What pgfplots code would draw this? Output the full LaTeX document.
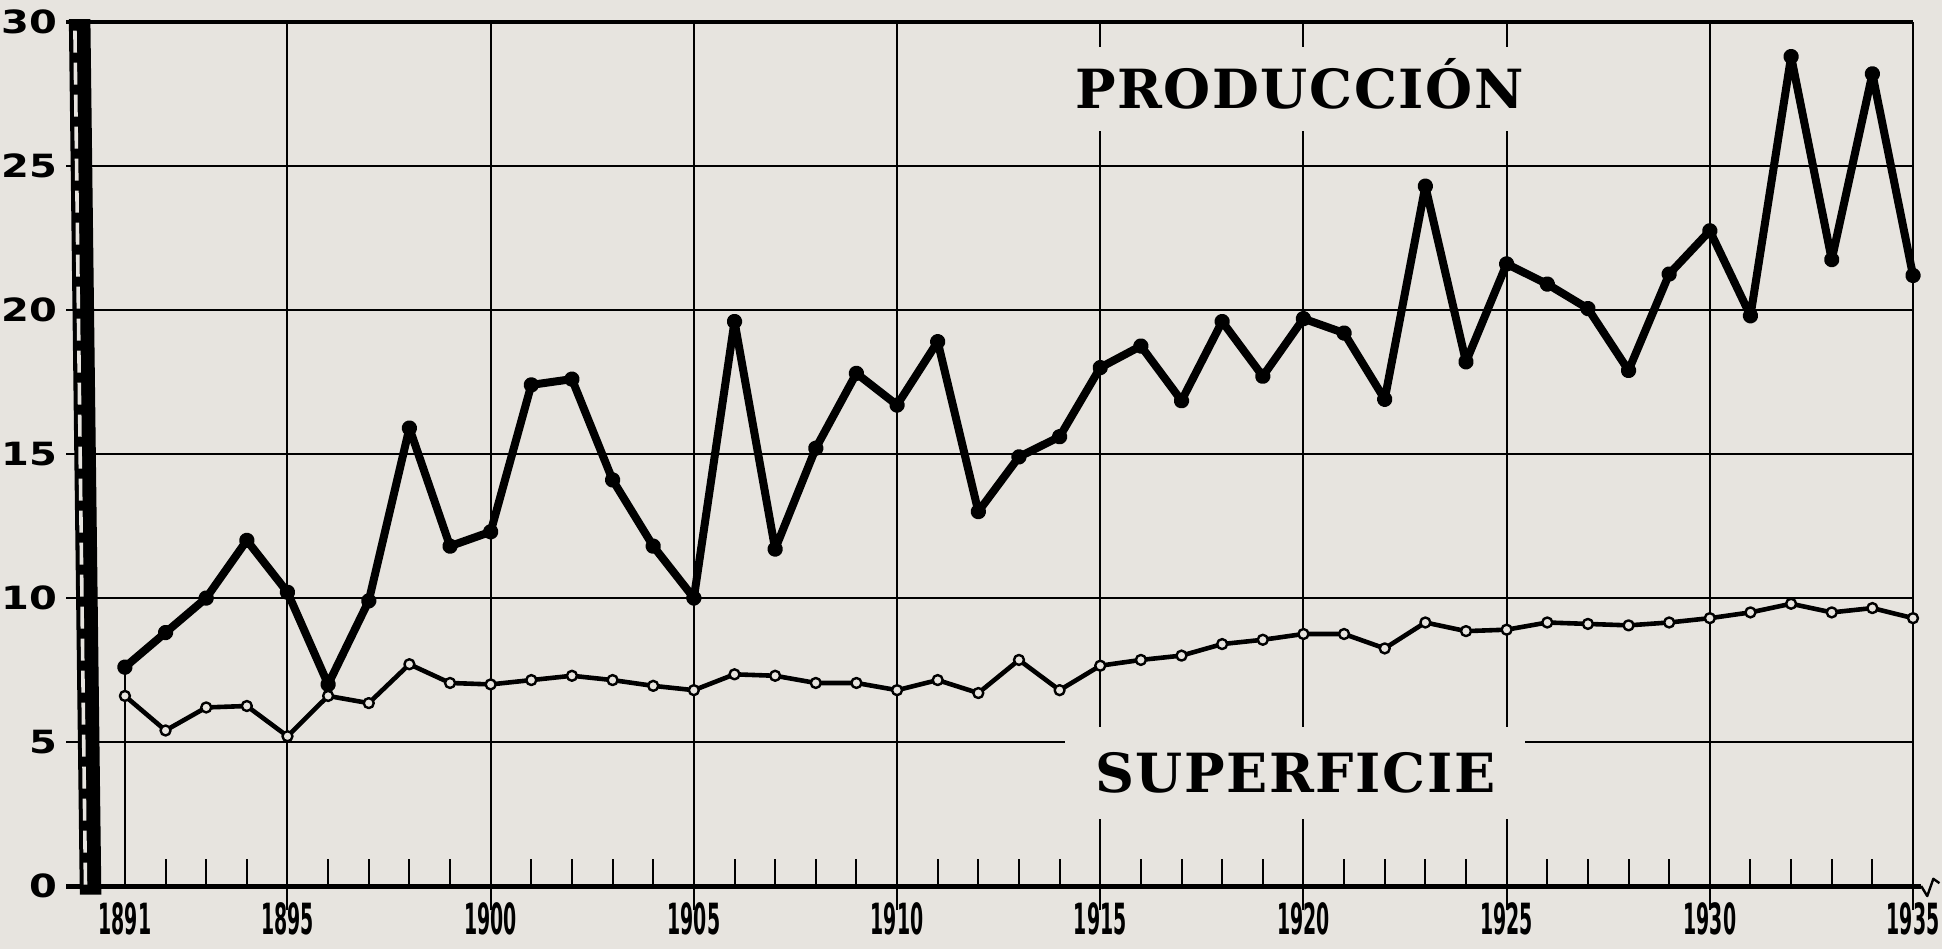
\documentclass[border=0pt]{standalone}
\usepackage{pgfplots}
\pgfplotsset{compat=1.18}
\usepackage{pgfplotstable}
\usepackage{fontspec}
\setmainfont{DejaVu Serif}
\newfontfamily\labfont[LetterSpace=3]{DejaVu Serif}
\newfontfamily\xfont[FakeStretch=0.44]{DejaVu Sans}
\newfontfamily\yfont[FakeStretch=1.25]{DejaVu Sans}
\definecolor{paper}{RGB}{231,228,223}

\pgfplotstableread{
year prod
1891 7.6
1892 8.8
1893 10.0
1894 12.0
1895 10.2
1896 7.0
1897 9.9
1898 15.9
1899 11.8
1900 12.3
1901 17.4
1902 17.6
1903 14.1
1904 11.8
1905 10.0
1906 19.6
1907 11.7
1908 15.2
1909 17.8
1910 16.7
1911 18.9
1912 13.0
1913 14.9
1914 15.6
1915 18.0
1916 18.75
1917 16.85
1918 19.6
1919 17.7
1920 19.7
1921 19.2
1922 16.9
1923 24.3
1924 18.2
1925 21.6
1926 20.9
1927 20.05
1928 17.9
1929 21.25
1930 22.75
1931 19.8
1932 28.8
1933 21.75
1934 28.2
1935 21.2
}\prodtable

\pgfplotstableread{
year sup
1891 6.6
1892 5.4
1893 6.2
1894 6.25
1895 5.2
1896 6.6
1897 6.35
1898 7.7
1899 7.05
1900 7.0
1901 7.15
1902 7.3
1903 7.15
1904 6.95
1905 6.8
1906 7.35
1907 7.3
1908 7.05
1909 7.05
1910 6.8
1911 7.15
1912 6.7
1913 7.85
1914 6.8
1915 7.65
1916 7.85
1917 8.0
1918 8.4
1919 8.55
1920 8.75
1921 8.75
1922 8.25
1923 9.15
1924 8.85
1925 8.9
1926 9.15
1927 9.1
1928 9.05
1929 9.15
1930 9.3
1931 9.5
1932 9.8
1933 9.5
1934 9.65
1935 9.3
}\suptable

\begin{document}
\begin{tikzpicture}
\path[use as bounding box, fill=paper] (0,0) rectangle (971pt,474.5pt);
\begin{axis}[
  at={(33pt,31.5pt)}, anchor=south west,
  scale only axis, width=923.5pt, height=432pt,
  xmin=1889.55, xmax=1935, ymin=0, ymax=30,
  clip=false,
  axis line style={draw=none},
  tick pos=left,
  xtick={1891,1895,1900,1905,1910,1915,1920,1925,1930,1935},
  xticklabels={1891,1895,1900,1905,1910,1915,1920,1925,1930,1935},
  ytick={0,5,10,15,20,25,30},
  yticklabels={0,5,10,15,20,25,30},
  major tick length=0pt,
  minor xtick={1892,1893,1894,1896,1897,1898,1899,1901,1902,1903,1904,1906,1907,1908,1909,1911,1912,1913,1914,1916,1917,1918,1919,1921,1922,1923,1924,1926,1927,1928,1929,1931,1932,1933,1934},
  minor tick length=13.5pt,
  tick align=inside,
  minor tick style={line width=1pt, black},
  ymajorgrids,
  major grid style={line width=1.2pt, black},
  xticklabel style={font=\xfont\bfseries\fontsize{21.5}{21.5}\selectfont, anchor=north, yshift=-5pt},
  yticklabel style={font=\yfont\bfseries\fontsize{16}{16}\selectfont, anchor=east, xshift=-1pt},
]
% vertical grid lines
\foreach \x in {1895,1900,1905,1910,1915,1920,1925,1930,1935}{
  \edef\temp{\noexpand\draw[line width=1pt, black] (axis cs:\x,-0.85) -- (axis cs:\x,30);}
  \temp
}
% drop line at 1891
\draw[line width=0.9pt] (axis cs:1891,0) -- (axis cs:1891,7.6);
% x axis line
\draw[line width=2.5pt] (axis cs:1889.55,0) -- (axis cs:1935.2,0);
\draw[line width=1.2pt, line join=round] (axis cs:1935.2,0) -- (axis cs:1935.35,-0.35) -- (axis cs:1935.5,0.25) -- (axis cs:1935.65,0.1);
% top line
\draw[line width=1.6pt] (axis cs:1889.55,30) -- (axis cs:1935,30);
% broken-axis bar
\fill[black] (axis cs:1889.62,30.1) -- (axis cs:1890.15,30.1) -- (axis cs:1890.42,-0.3) -- (axis cs:1889.89,-0.3) -- cycle;
\draw[paper, line width=1.8pt, dash pattern=on 11pt off 5pt] (axis cs:1889.77,29.7) -- (axis cs:1890.03,0);
% labels
\node[fill=paper, inner xsep=15pt, inner ysep=11pt, text height=20pt, text depth=0pt, anchor=base,
      font=\labfont\bfseries\fontsize{27}{27}\selectfont] at (axis cs:1919.9,26.98) {PRODUCCIÓN};
\node[fill=paper, inner xsep=15pt, inner ysep=13pt, text height=20pt, text depth=0pt, anchor=base,
      font=\labfont\bfseries\fontsize{27}{27}\selectfont] at (axis cs:1919.8,3.23) {SUPERFICIE};
% data
\addplot[black, line width=4pt, line join=round, mark=*, mark size=1.9pt] table[x=year, y=prod] {\prodtable};
\addplot[black, line width=2.3pt, line join=round, mark=*, mark size=2.5pt,
         mark options={fill=paper, draw=black, line width=1.2pt}] table[x=year, y=sup] {\suptable};
\end{axis}
\end{tikzpicture}
\end{document}
